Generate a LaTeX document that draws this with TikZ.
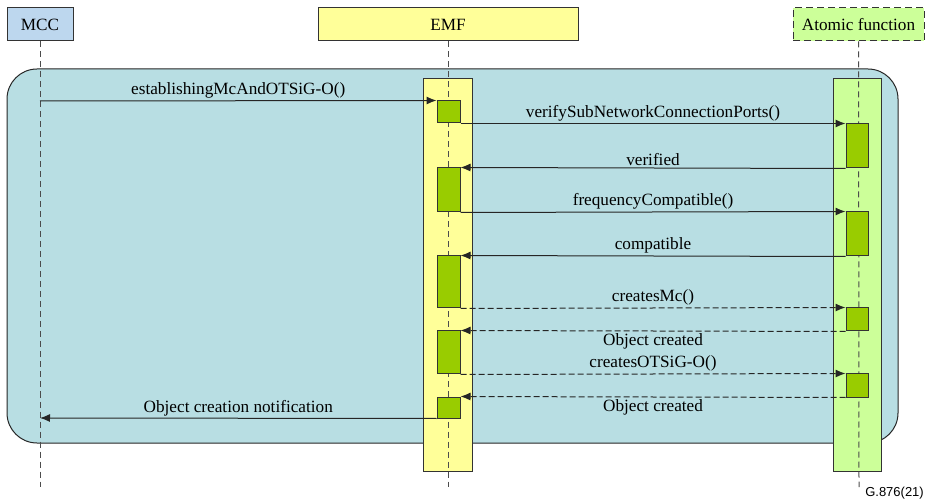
\documentclass[tikz,border=0pt]{standalone}
\usepackage{fontspec}
\setmainfont{Liberation Serif}
\newfontfamily\figsans{Liberation Sans}
\usetikzlibrary{arrows.meta}
\definecolor{mccblue}{HTML}{BDD7EE}
\definecolor{emfyellow}{HTML}{FFFF99}
\definecolor{afgreen}{HTML}{CCFF99}
\definecolor{actgreen}{HTML}{99CC00}
\definecolor{frameteal}{HTML}{B8DEE3}
\tikzset{
  head/.style={draw=black!80, line width=1pt, minimum height=33pt, inner sep=0pt, font=\fontsize{17.2}{17.2}\selectfont},
  act/.style={draw=black!80, fill=actgreen, line width=1pt, inner sep=0pt},
  life/.style={draw=black!70, dash pattern=on 6pt off 4pt, line width=1pt},
  msg/.style={draw=black!85, line width=1pt, -{Latex[length=10pt,width=8pt]}},
  reply/.style={msg, dash pattern=on 6pt off 3pt},
  lbl/.style={font=\fontsize{17.2}{17.2}\selectfont, inner sep=2pt}
}
\begin{document}
\begin{tikzpicture}[x=1pt,y=-1pt]
\useasboundingbox (0,0) rectangle (926,502);
\draw[draw=black!85, fill=frameteal, line width=1pt, rounded corners=30pt] (7,69) rectangle (898,443);
\draw[draw=black!80, fill=emfyellow, line width=1pt] (423,79) rectangle (472,471);
\draw[draw=black!80, fill=afgreen, line width=1pt] (833,79) rectangle (881,471);
\node[head, fill=mccblue, minimum width=66pt] (mcc) at (40,24.5) {MCC};
\node[head, fill=emfyellow, minimum width=260pt] (emf) at (448,24.5) {EMF};
\node[head, fill=afgreen, dash pattern=on 7pt off 4pt, minimum width=131pt] (af) at (858.5,24.5) {Atomic function};
\coordinate (mccend) at (40,487);
\coordinate (emfend) at (448,487);
\coordinate (afend) at (859,487);
\draw[life] (mcc.south) -- (mccend);
\draw[life] (emf.south) -- (emfend);
\draw[life] (af.south) -- (afend);
\node[act, minimum width=23pt, minimum height=22pt] (e1) at (448.5,112) {};
\node[act, minimum width=23pt, minimum height=44pt] (e2) at (448.5,190) {};
\node[act, minimum width=23pt, minimum height=52pt] (e3) at (448.5,282) {};
\node[act, minimum width=23pt, minimum height=43pt] (e4) at (448.5,352.5) {};
\node[act, minimum width=23pt, minimum height=21pt] (e5) at (448.5,407.5) {};
\node[act, minimum width=22pt, minimum height=44pt] (a1) at (857,146) {};
\node[act, minimum width=22pt, minimum height=44pt] (a2) at (857,234) {};
\node[act, minimum width=22pt, minimum height=23pt] (a3) at (857,319.5) {};
\node[act, minimum width=22pt, minimum height=23pt] (a4) at (857,385.5) {};
\coordinate (mccin) at (40,101);
\coordinate (mccout) at (40,418);
\draw[msg] (mccin) -- node[lbl, above] {establishingMcAndOTSiG-O()} (e1.north west);
\draw[msg] (e1.south east) -- node[lbl, above] {verifySubNetworkConnectionPorts()} (a1.north west);
\draw[msg] (a1.south west) -- node[lbl, above] {verified} (e2.north east);
\draw[msg] (e2.south east) -- node[lbl, above] {frequencyCompatible()} (a2.north west);
\draw[msg] (a2.south west) -- node[lbl, above] {compatible} (e3.north east);
\draw[reply] (e3.south east) -- node[lbl, above] {createsMc()} (a3.north west);
\draw[reply] (a3.south west) -- node[lbl, below] {Object created} (e4.north east);
\draw[reply] (e4.south east) -- node[lbl, above] {createsOTSiG-O()} (a4.north west);
\draw[reply] (a4.south west) -- node[lbl, below] {Object created} (e5.north east);
\draw[msg] (e5.south west) -- node[lbl, above] {Object creation notification} (mccout);
\node[anchor=east, inner sep=0pt, font=\figsans\fontsize{13}{13}\selectfont] (fig) at (924,493) {G.876(21)};
\end{tikzpicture}
\end{document}
